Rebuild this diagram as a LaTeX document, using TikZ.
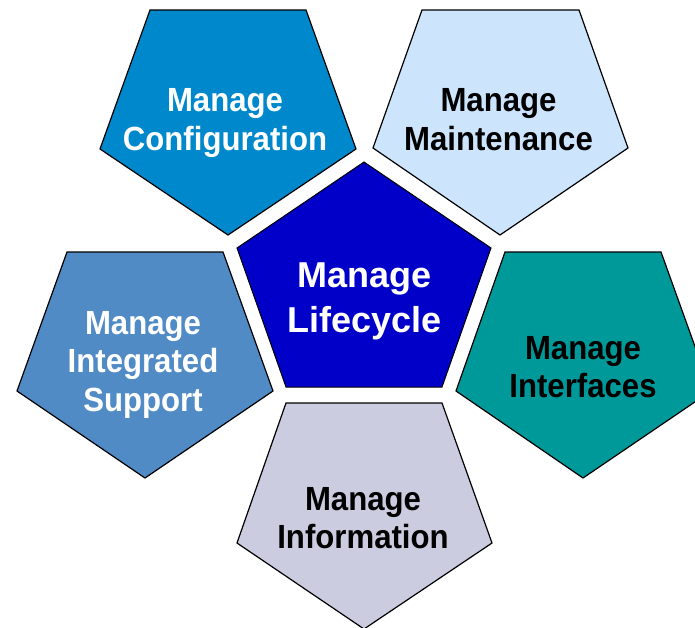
\documentclass[tikz,border=0pt]{standalone}
\usepackage{fontspec}
\newfontfamily\outerfont[FakeStretch=0.93]{Liberation Sans}
\newfontfamily\innerfont{Liberation Sans}
\definecolor{cfgblue}{RGB}{0,136,204}
\definecolor{mntblue}{RGB}{204,229,253}
\definecolor{lcblue}{RGB}{0,0,200}
\definecolor{supblue}{RGB}{80,139,198}
\definecolor{intteal}{RGB}{0,153,153}
\definecolor{inflav}{RGB}{204,204,224}
\tikzset{
  petal/.style={draw=black, line width=1.2pt, line join=miter},
  outerlbl/.style={font=\outerfont\bfseries\fontsize{33.5}{38.5}\selectfont, align=center, inner sep=0pt},
  innerlbl/.style={font=\innerfont\bfseries\fontsize{36}{45}\selectfont, align=center, inner sep=0pt, text=white}
}
\begin{document}
\begin{tikzpicture}[x=1pt,y=-1pt]
\useasboundingbox (0,0) rectangle (695,627);
% outer pentagons
\draw[petal, fill=cfgblue] (150,10) -- (306,10) -- (356,149) -- (228,235) -- (100,149) -- cycle;
\draw[petal, fill=mntblue] (422,10) -- (579,10) -- (628,148) -- (500,235) -- (373,148) -- cycle;
\draw[petal, fill=supblue] (67,252) -- (223,252) -- (273,391) -- (145,478) -- (17,391) -- cycle;
\draw[petal, fill=intteal] (505,252) -- (661,252) -- (711,391) -- (583,478) -- (456,391) -- cycle;
\draw[petal, fill=inflav] (286,403) -- (442,403) -- (492,543) -- (364,629) -- (237,543) -- cycle;
% central pentagon
\draw[petal, line width=1pt, fill=lcblue] (364,162) -- (491,248) -- (442,387) -- (286,387) -- (237,248) -- cycle;
% labels
\node[outerlbl, text=white] (cfg) at (225,123) {Manage\\Configuration};
\node[outerlbl, text=black] (mnt) at (498.5,119.5) {Manage\\Maintenance};
\node[outerlbl, text=white] (sup) at (143,364.7) {Manage\\Integrated\\Support};
\node[outerlbl, text=black] (itf) at (583,367.2) {Manage\\Interfaces};
\node[outerlbl, text=black] (inf) at (363,518) {Manage\\Information};
\node[innerlbl] (lc) at (364.5,301) {Manage\\Lifecycle};
\end{tikzpicture}
\end{document}
